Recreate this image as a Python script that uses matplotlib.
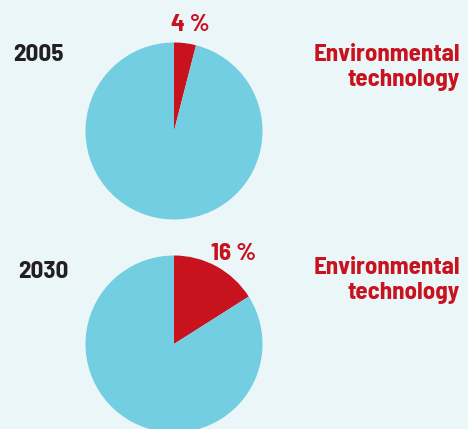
import matplotlib
matplotlib.use("Agg")
import matplotlib.pyplot as plt

# -------------------------------
# Data
# -------------------------------
years = ["2005", "2030"]
env_share = [4, 16]          # percent, environmental technology
label_lines = ["Environmental", "technology"]

red = "#C8131F"
cyan = "#72CEE0"
bg = "#EAF6F8"
dark = "#231F20"
font = ["Barlow Semi Condensed", "DejaVu Sans"]
fs = 18

W, H = 468, 429
fig = plt.figure(figsize=(W / 100, H / 100), dpi=100)
fig.patch.set_facecolor(bg)

# pie centres (px, from top-left) and radius
centres = [(174, 131), (174, 344)]
r = 88.5

for (cx, cy), share in zip(centres, env_share):
    ax = fig.add_axes([(cx - r) / W, (H - cy - r) / H, 2 * r / W, 2 * r / H])
    ax.pie([share, 100 - share], colors=[red, cyan], startangle=90,
           counterclock=False, radius=1, wedgeprops=dict(linewidth=0))
    ax.set_xlim(-1, 1)
    ax.set_ylim(-1, 1)
    ax.set_aspect("equal")
    ax.axis("off")


def txt(x, y, s, color, ha="left"):
    fig.text(x / W, 1 - y / H, s, color=color, fontsize=fs, fontweight="bold",
             family=font, ha=ha, va="baseline")


# year labels
txt(13, 61, years[0], dark)
txt(18, 278, years[1], dark)

# percentages
txt(190, 31, f"{env_share[0]}\u2009%", red, ha="center")
txt(234, 260, f"{env_share[1]}\u2009%", red, ha="center")

# right-hand labels
for base in (61, 274):
    txt(460, base, label_lines[0], red, ha="right")
    txt(460, base + 25, label_lines[1], red, ha="right")

fig.savefig("out.png", dpi=100, facecolor=bg)
